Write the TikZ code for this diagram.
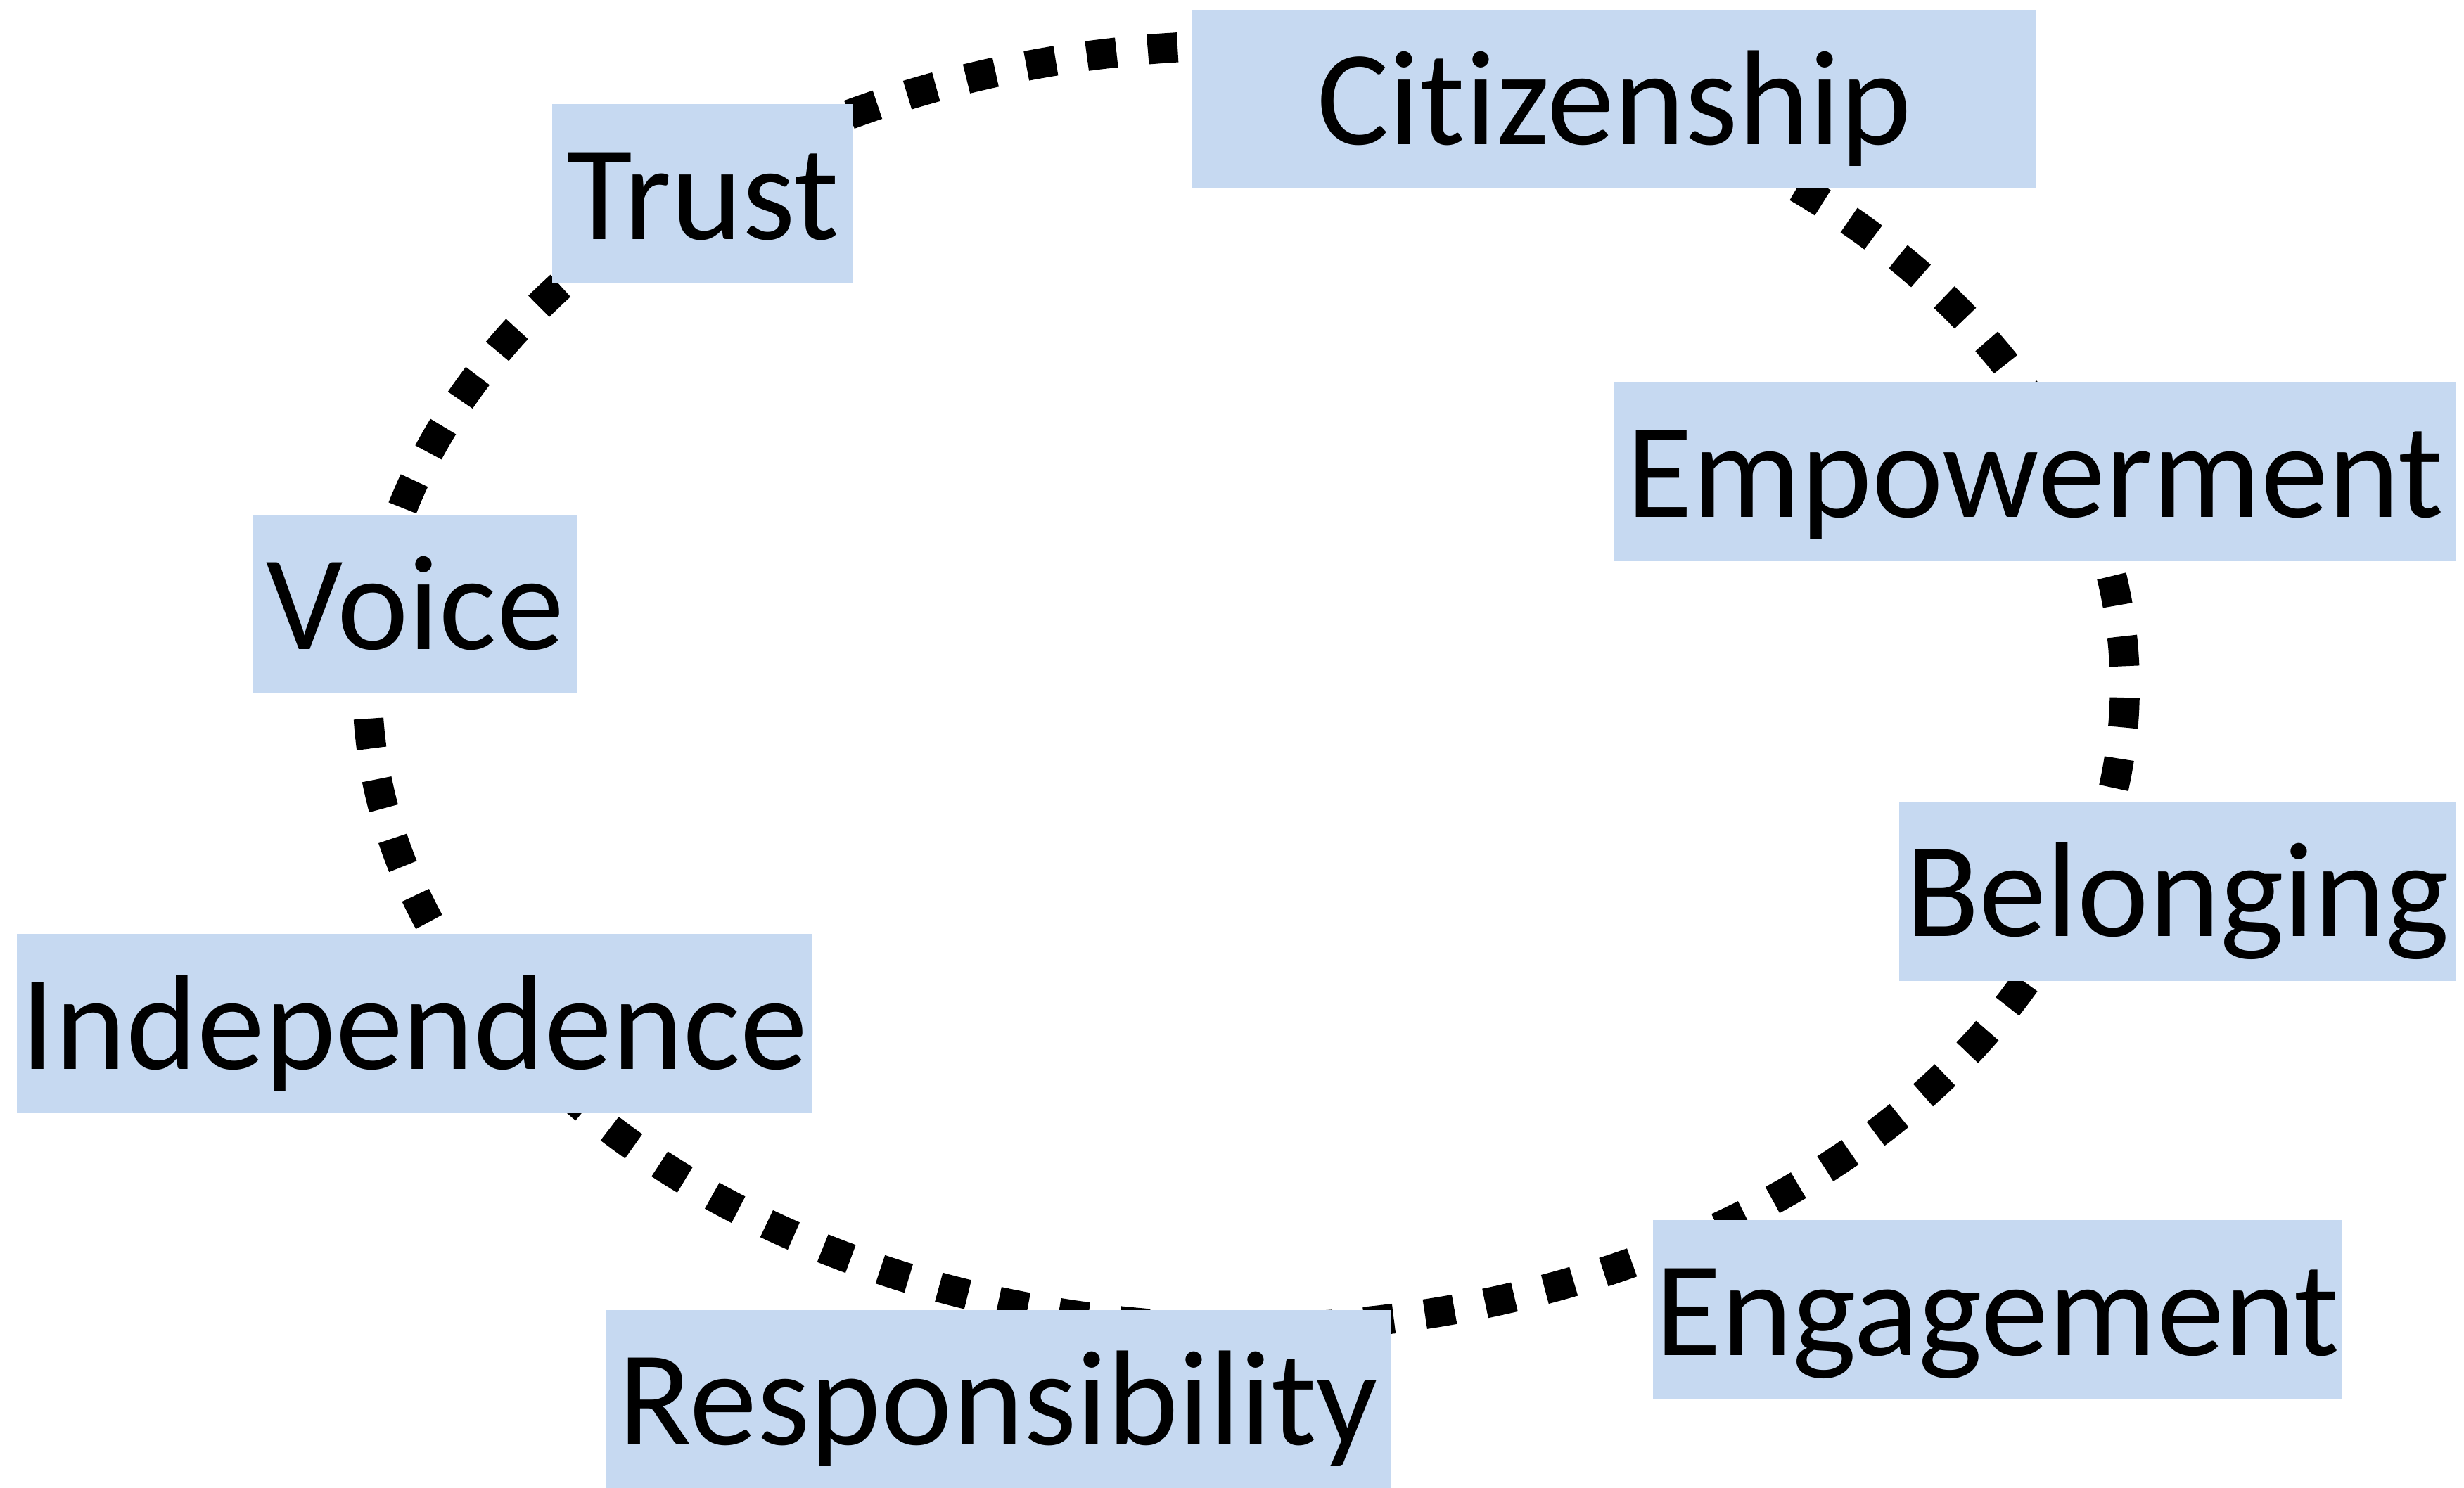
\documentclass[tikz,border=0pt]{standalone}
\usepackage{fontspec}
\setmainfont{Carlito}[Ligatures=NoCommon]
\usepackage{xcolor}
\definecolor{boxblue}{RGB}{198,217,241}
\tikzset{
    value/.style={fill=boxblue, inner xsep=0pt, inner ysep=0pt,
        text height=0.86cm, text depth=0.28cm,
        font=\fontsize{24.5pt}{29pt}\selectfont},
    ring/.style={line width=0.19cm, dash pattern=on 0.19cm off 0.2cm}
}

\begin{document}
\begin{tikzpicture}
    \useasboundingbox (-7.93, -5.097) rectangle (7.75, 4.37);
    % dashed ring, started under a box so the seam is hidden
    \draw[ring] (20:5.59 and 4.08)
        arc[start angle=20, end angle=380, x radius=5.59, y radius=4.08];
    % values round the ring
    \node[value, minimum width=5.367cm] (citizenship) at (2.342, 3.739) {Citizenship};
    \node[value, minimum width=1.916cm] (trust) at (-3.458, 3.136) {Trust};
    \node[value, minimum width=5.36cm] (empowerment) at (5.02, 1.368) {Empowerment};
    \node[value, minimum width=2.068cm] (voice) at (-5.289, 0.525) {Voice};
    \node[value, minimum width=3.544cm] (belonging) at (5.928, -1.302) {Belonging};
    \node[value, minimum width=5.063cm] (independence) at (-5.292, -2.146) {Independence};
    \node[value, minimum width=4.38cm] (engagement) at (4.78, -3.967) {Engagement};
    \node[value, minimum width=4.991cm] (responsibility) at (-1.576, -4.537) {Responsibility};
\end{tikzpicture}
\end{document}
